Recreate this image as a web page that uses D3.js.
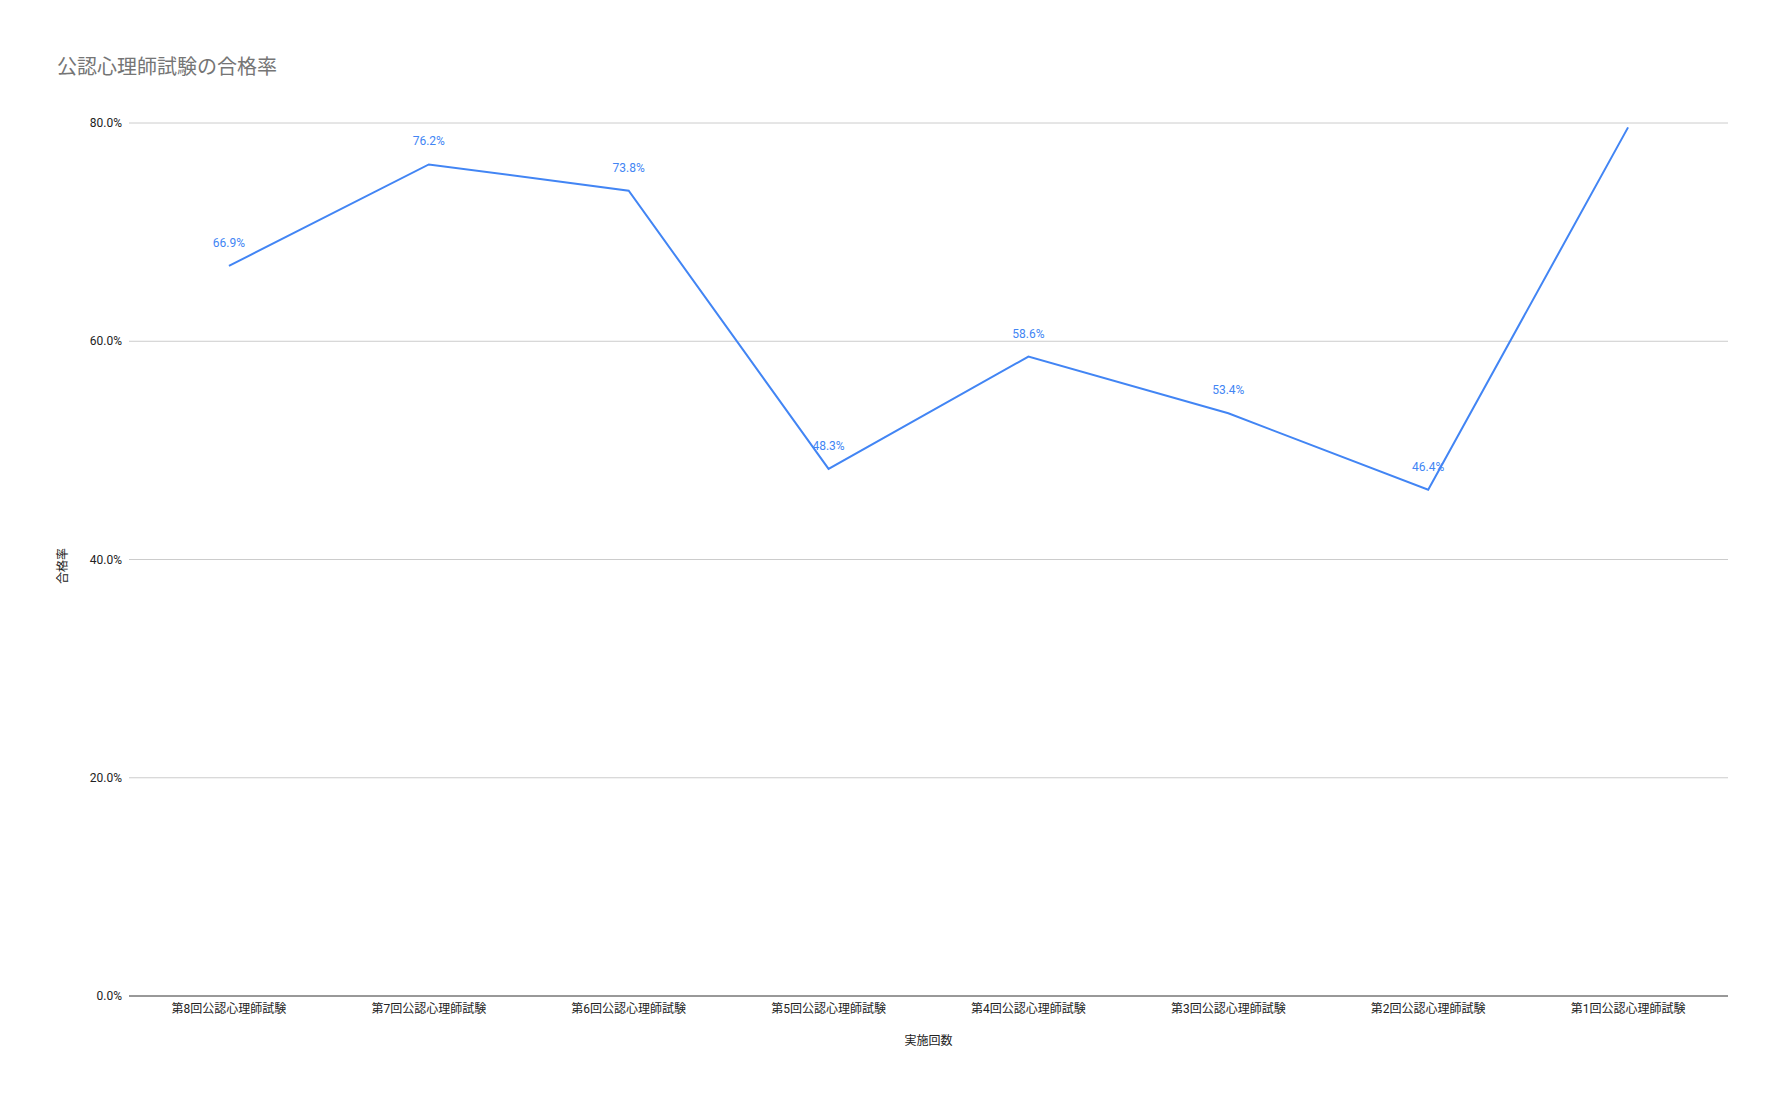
<!DOCTYPE html>
<html><head><meta charset="utf-8">
<script src="https://cdn.jsdelivr.net/npm/d3@7"></script>
<style>body{margin:0;background:#fff;font-family:Roboto,"Noto Sans CJK JP",sans-serif}</style>
</head><body>
<script>
var categories = ["第8回公認心理師試験","第7回公認心理師試験","第6回公認心理師試験","第5回公認心理師試験","第4回公認心理師試験","第3回公認心理師試験","第2回公認心理師試験","第1回公認心理師試験"];
var passRates = [66.9, 76.2, 73.8, 48.3, 58.6, 53.4, 46.4, 79.6];
var showLabel = [true, true, true, true, true, true, true, false];
var yTicks = [0, 20, 40, 60, 80];

var W = 1784, H = 1104,
	plotLeft = 129, plotRight = 1728, plotTop = 123, plotBottom = 996,
	font = 'Roboto,"Noto Sans CJK JP",sans-serif';

var svg = d3.select("body").append("svg")
	.attr("width", W).attr("height", H)
	.style("font-family", font);

var x = d3.scaleBand().domain(categories).range([plotLeft, plotRight]);
var y = d3.scaleLinear().domain([0, 80]).range([plotBottom, plotTop]);

// gridlines
svg.selectAll(".grid").data(yTicks.slice(1)).enter().append("line")
	.attr("x1", plotLeft).attr("x2", plotRight)
	.attr("y1", function (d) { return y(d); })
	.attr("y2", function (d) { return y(d); })
	.attr("stroke", "#cccccc").attr("stroke-width", 1);
svg.append("line").attr("x1", plotLeft).attr("x2", plotRight)
	.attr("y1", plotBottom).attr("y2", plotBottom).attr("stroke", "#333").attr("stroke-width", 1);

svg.selectAll(".ytick").data(yTicks).enter().append("text")
	.attr("x", plotLeft - 7).attr("y", function (d) { return y(d) + 4; })
	.attr("text-anchor", "end").attr("font-size", 12).attr("fill", "#222")
	.text(function (d) { return d.toFixed(1) + "%"; });

svg.selectAll(".xtick").data(categories).enter().append("text")
	.attr("x", function (d) { return x(d) + x.bandwidth() / 2; }).attr("y", 1013)
	.attr("text-anchor", "middle").attr("font-size", 12).attr("fill", "#222")
	.text(function (d) { return d; });

svg.append("text").attr("x", 57).attr("y", 74)
	.attr("font-size", 20).attr("fill", "#757575").text("公認心理師試験の合格率");
svg.append("text").attr("x", (plotLeft + plotRight) / 2).attr("y", 1045)
	.attr("text-anchor", "middle").attr("font-size", 12).attr("fill", "#222").text("実施回数");
svg.append("text").attr("transform", "translate(67,566) rotate(-90)")
	.attr("text-anchor", "middle").attr("font-size", 12).attr("fill", "#222").text("合格率");

var pts = categories.map(function (c, i) { return {c: c, v: passRates[i], lab: showLabel[i]}; });
var line = d3.line()
	.x(function (d) { return x(d.c) + x.bandwidth() / 2; })
	.y(function (d) { return y(d.v); });
svg.append("path").datum(pts).attr("d", line)
	.attr("fill", "none").attr("stroke", "#4285f4").attr("stroke-width", 2);

svg.selectAll(".lab").data(pts.filter(function (d) { return d.lab; })).enter().append("text")
	.attr("x", function (d) { return x(d.c) + x.bandwidth() / 2; })
	.attr("y", function (d) { return y(d.v) - 19; })
	.attr("text-anchor", "middle").attr("font-size", 12).attr("fill", "#4285f4")
	.text(function (d) { return d.v.toFixed(1) + "%"; });
</script>
</body></html>
